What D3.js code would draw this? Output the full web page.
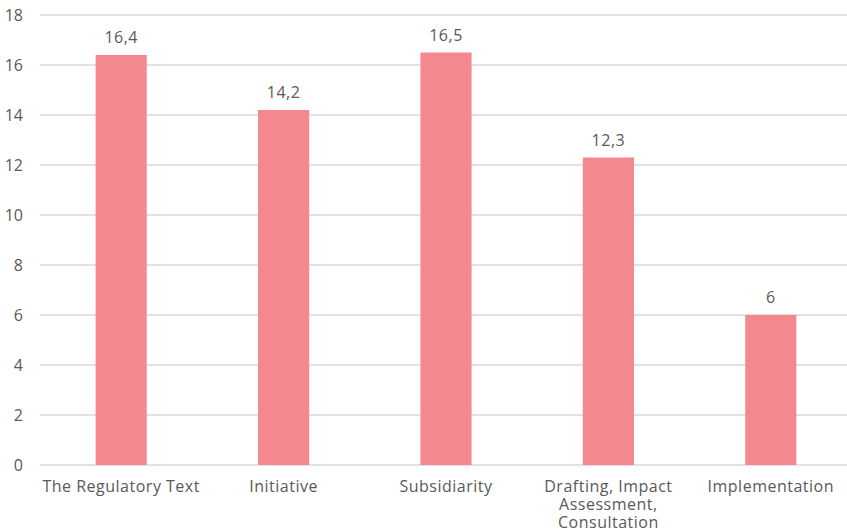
<!DOCTYPE html>
<html>
<head>
<meta charset="utf-8">
<script src="https://cdn.jsdelivr.net/npm/d3@7"></script>
<style>
  html, body { margin: 0; padding: 0; background: #fff; }
  svg { display: block; }
  text { font-family: "Open Sans", Lato, sans-serif; fill: #595959; }
</style>
</head>
<body>
<svg id="chart" width="847" height="532"></svg>
<script>
// Scores per stage of the legislative process
const categories = [
  ["The Regulatory Text"],
  ["Initiative"],
  ["Subsidiarity"],
  ["Drafting, Impact", "Assessment,", "Consultation"],
  ["Implementation"]
];
const values = [16.4, 14.2, 16.5, 12.3, 6];
const valueLabels = ["16,4", "14,2", "16,5", "12,3", "6"];
const yTicks = [0, 2, 4, 6, 8, 10, 12, 14, 16, 18];

(function draw() {
  const svg = d3.select("#chart");
  const plotLeft = 40, plotRight = 852, plotTop = 15, plotBottom = 465;
  const fontSize = "16px";
  const tracking = "0.5px";

  const x = d3.scaleBand()
    .domain(d3.range(categories.length))
    .range([plotLeft, plotRight])
    .paddingInner(0.685)
    .paddingOuter(0.3425);

  const y = d3.scaleLinear().domain([0, 18]).range([plotBottom, plotTop]);

  // Horizontal gridlines
  svg.append("g")
    .selectAll("line")
    .data(yTicks)
    .join("line")
    .attr("x1", plotLeft)
    .attr("x2", 847)
    .attr("y1", d => y(d))
    .attr("y2", d => y(d))
    .attr("stroke", "#d9d9d9")
    .attr("stroke-width", 1.5);

  // Y axis labels
  svg.append("g")
    .selectAll("text")
    .data(yTicks)
    .join("text")
    .attr("x", 23)
    .attr("y", d => y(d))
    .attr("dy", "0.35em")
    .attr("text-anchor", "end")
    .style("font-size", fontSize)
    .text(d => d);

  // Bars
  svg.append("g")
    .selectAll("rect")
    .data(values)
    .join("rect")
    .attr("x", (d, i) => x(i))
    .attr("width", x.bandwidth())
    .attr("y", d => y(d))
    .attr("height", d => y(0) - y(d))
    .attr("fill", "#f4888f");

  // Value labels
  svg.append("g")
    .selectAll("text")
    .data(values)
    .join("text")
    .attr("x", (d, i) => x(i) + x.bandwidth() / 2)
    .attr("y", d => y(d) - 12)
    .attr("text-anchor", "middle")
    .style("font-size", fontSize)
    .style("letter-spacing", tracking)
    .text((d, i) => valueLabels[i]);

  // Category labels, wrapped onto several lines where needed
  const cat = svg.append("g")
    .selectAll("text")
    .data(categories)
    .join("text")
    .attr("x", (d, i) => x(i) + x.bandwidth() / 2)
    .attr("y", 492)
    .attr("text-anchor", "middle")
    .style("font-size", fontSize)
    .style("letter-spacing", tracking);

  cat.selectAll("tspan")
    .data(d => d)
    .join("tspan")
    .attr("x", function () { return d3.select(this.parentNode).attr("x"); })
    .attr("dy", (d, j) => j === 0 ? 0 : 18)
    .text(d => d);
})();
</script>
</body>
</html>
